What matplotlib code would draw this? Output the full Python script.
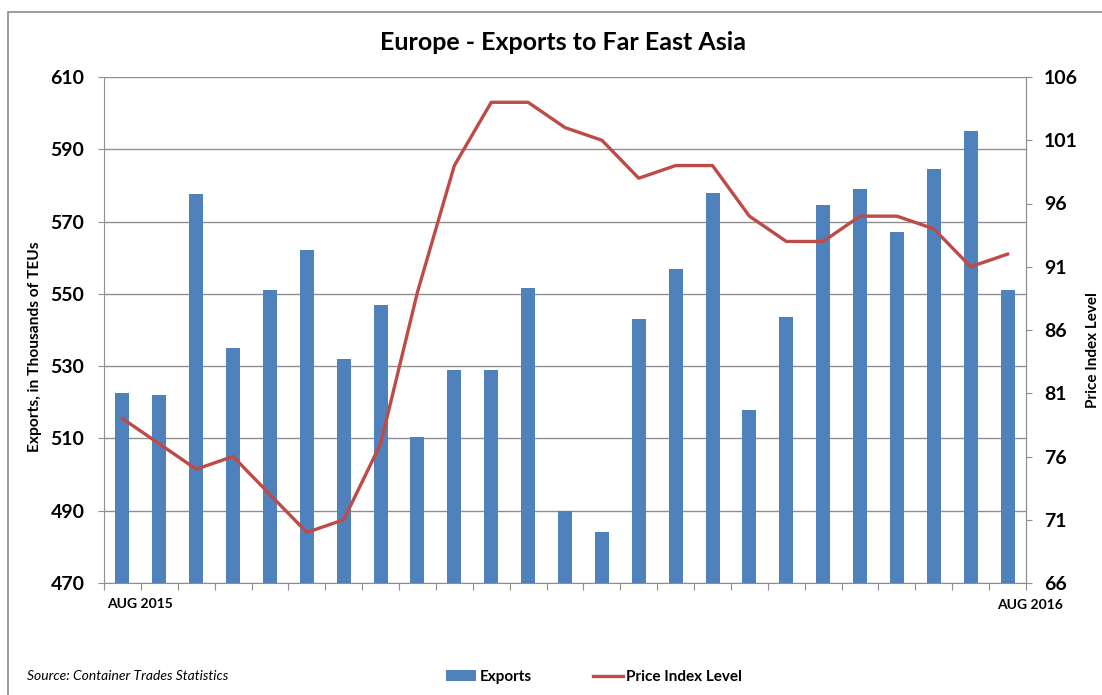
import matplotlib.pyplot as plt
import numpy as np
from matplotlib.lines import Line2D
from matplotlib.patches import Patch, Rectangle

plt.rcParams["font.family"] = ["Lato", "DejaVu Sans"]

# 25 periods, AUG 2015 .. AUG 2016
EXPORTS = [522.5, 522, 577.5, 535, 551, 562, 532, 547, 510.5, 529, 529, 551.5,
           490, 484, 543, 557, 578, 518, 543.5, 574.5, 579, 567, 584.5, 595, 551]
PRICE_INDEX = [79, 77, 75, 76, 73, 70, 71, 77, 89, 99, 104, 104,
               102, 101, 98, 99, 99, 95, 93, 93, 95, 95, 94, 91, 92]
X_LABELS = ["AUG 2015", "AUG 2016"]
LEFT_TICKS = [470, 490, 510, 530, 550, 570, 590, 610]
RIGHT_TICKS = [66, 71, 76, 81, 86, 91, 96, 101, 106]

BAR_COLOR = "#4F81BD"
LINE_COLOR = "#BE4B48"
GRID_COLOR = "#8f8f8f"

fig = plt.figure(figsize=(11.02, 6.95), dpi=100)
fig.patches.append(Rectangle((8 / 1102, -0.1), 1.2, 0.1 + (695 - 12) / 695,
                             transform=fig.transFigure, fill=False,
                             edgecolor="#8c8c8c", linewidth=1.2))

ax = fig.add_axes([104 / 1102, (695 - 583) / 695, (1026 - 104) / 1102, (583 - 77) / 695])
x = np.arange(len(EXPORTS))
ax.bar(x, EXPORTS, width=0.38, color=BAR_COLOR, zorder=2)
ax.set_xlim(-0.5, len(EXPORTS) - 0.5)
ax.set_ylim(LEFT_TICKS[0], LEFT_TICKS[-1])
ax.set_yticks(LEFT_TICKS)
ax.yaxis.grid(True, color=GRID_COLOR, linewidth=1.0, zorder=0)
ax.set_axisbelow(True)
ax.set_xticks(np.arange(len(EXPORTS) + 1) - 0.5)
ax.set_xticklabels([])
ax.tick_params(axis="x", direction="out", length=5, color=GRID_COLOR)
ax.tick_params(axis="y", direction="out", length=4, color=GRID_COLOR, pad=10,
               labelsize=14)
for lab in ax.get_yticklabels():
    lab.set_fontweight("bold")
for side in ["left", "bottom", "right"]:
    ax.spines[side].set_color(GRID_COLOR)
ax.spines["top"].set_visible(False)

ax2 = ax.twinx()
ax2.plot(x, PRICE_INDEX, color=LINE_COLOR, linewidth=2.4, zorder=3)
ax2.set_ylim(RIGHT_TICKS[0], RIGHT_TICKS[-1])
ax2.set_yticks(RIGHT_TICKS)
ax2.tick_params(axis="y", direction="out", length=4, color=GRID_COLOR, pad=9,
                labelsize=14)
for lab in ax2.get_yticklabels():
    lab.set_fontweight("bold")
for side in ["left", "bottom", "top"]:
    ax2.spines[side].set_visible(False)
ax2.spines["right"].set_color(GRID_COLOR)

fig.text(35 / 1102, 1 - 347 / 695, "Exports, in Thousands of TEUs", fontsize=11.2,
         fontweight="bold", rotation=90, ha="center", va="center")
fig.text(1093 / 1102, 1 - 350 / 695, "Price Index Level", fontsize=11,
         fontweight="bold", rotation=90, ha="center", va="center")

fig.text(107 / 1102, 1 - 604 / 695, X_LABELS[0], fontsize=10, fontweight="bold",
         ha="left", va="center")
fig.text(1063 / 1102, 1 - 605 / 695, X_LABELS[1], fontsize=10, fontweight="bold",
         ha="right", va="center")

fig.text(563 / 1102, 1 - 42 / 695, "Europe - Exports to Far East Asia",
         fontsize=18, fontweight="bold", ha="center", va="center")
fig.text(27 / 1102, 1 - 676 / 695, "Source: Container Trades Statistics",
         fontsize=10, style="italic", ha="left", va="center")

handles = [Patch(facecolor=BAR_COLOR), Line2D([], [], color=LINE_COLOR, linewidth=2.4)]
fig.legend(handles, ["Exports", "Price Index Level"], loc="center",
           bbox_to_anchor=(594 / 1102, 1 - 677 / 695), ncol=2, frameon=False,
           prop={"weight": "bold", "size": 11}, handlelength=2.0,
           handletextpad=0.2, columnspacing=4.0)

fig.savefig("out.png", dpi=100)
